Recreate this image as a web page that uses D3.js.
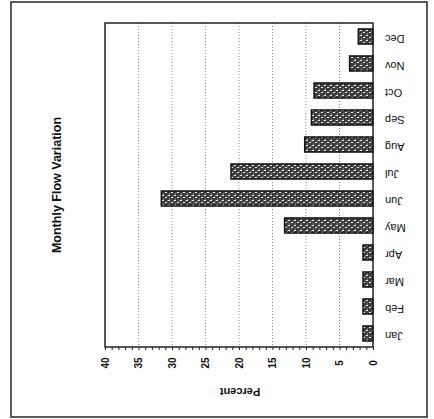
<!DOCTYPE html>
<meta charset="utf-8">
<style>
    body { margin: 0; background: #fff; }
    text { font-family: "Liberation Sans", Arial, sans-serif; fill: #111; }
    .grid line { stroke: #888; stroke-dasharray: 1,2; }
</style>
<svg width="434" height="419"></svg>
<script src="https://cdn.jsdelivr.net/npm/d3@7"></script>
<script>

    var months = ["Jan", "Feb", "Mar", "Apr", "May", "Jun", "Jul", "Aug", "Sep", "Oct", "Nov", "Dec"];
    var percents = [1.5, 1.5, 1.5, 1.5, 13.2, 31.6, 21.2, 10.2, 9.2, 8.8, 3.5, 2.2];
    var tickValues = [0, 5, 10, 15, 20, 25, 30, 35, 40];

    var data = months.map(function(m, i) { return {month: m, value: percents[i]}; });

    var svg = d3.select("svg");

    var plotLeft = 105, plotRight = 373, plotTop = 23, plotBottom = 347;

    // value axis runs right-to-left, months bottom-to-top
    var x = d3.scaleLinear().domain([0, 40]).range([plotRight, plotLeft]);
    var y = d3.scaleBand().domain(months).range([plotBottom, plotTop]).paddingInner(0.44).paddingOuter(0.22);

    // speckled fill for bars
    var defs = svg.append("defs");
    var pat = defs.append("pattern")
            .attr("id", "speck")
            .attr("width", 6).attr("height", 5)
            .attr("patternUnits", "userSpaceOnUse");
    pat.append("rect").attr("width", 6).attr("height", 5).attr("fill", "#3c3c3c");
    pat.append("rect").attr("x", 0).attr("y", 0).attr("width", 2).attr("height", 1).attr("fill", "#e8e8e8");
    pat.append("rect").attr("x", 3).attr("y", 2).attr("width", 2).attr("height", 1).attr("fill", "#f0f0f0");
    pat.append("rect").attr("x", 1).attr("y", 3.5).attr("width", 1).attr("height", 1).attr("fill", "#bbb");
    pat.append("rect").attr("x", 5).attr("y", 0.5).attr("width", 1).attr("height", 1).attr("fill", "#999");

    // outer frame
    svg.append("rect")
            .attr("x", 11).attr("y", 2)
            .attr("width", 416).attr("height", 415)
            .attr("fill", "none")
            .attr("stroke", "#333")
            .attr("stroke-width", 1.6);

    // grid
    svg.append("g")
            .attr("class", "grid")
            .selectAll("line")
            .data(tickValues.filter(function(d) { return d > 0 && d < 40; }))
            .enter().append("line")
            .attr("x1", function(d) { return x(d); })
            .attr("x2", function(d) { return x(d); })
            .attr("y1", plotTop)
            .attr("y2", plotBottom);

    // bars
    svg.append("g")
            .selectAll("rect")
            .data(data)
            .enter().append("rect")
            .attr("x", function(d) { return x(d.value); })
            .attr("y", function(d) { return y(d.month); })
            .attr("width", function(d) { return x(0) - x(d.value); })
            .attr("height", y.bandwidth())
            .attr("fill", "url(#speck)")
            .attr("stroke", "#111")
            .attr("stroke-width", 1.4);

    // plot frame
    svg.append("rect")
            .attr("x", plotLeft).attr("y", plotTop)
            .attr("width", plotRight - plotLeft).attr("height", plotBottom - plotTop)
            .attr("fill", "none")
            .attr("stroke", "#222")
            .attr("stroke-width", 1.5);

    // bottom axis with minor ticks
    var axis = svg.append("g")
            .attr("transform", "translate(0," + plotBottom + ")");
    axis.call(d3.axisBottom(x).ticks(40).tickSize(3).tickFormat(""))
            .call(function(g) { g.select(".domain").remove(); })
            .selectAll("line").attr("stroke", "#222");

    svg.append("g")
            .selectAll("text")
            .data(tickValues)
            .enter().append("text")
            .attr("transform", function(d) { return "translate(" + x(d) + ",363) rotate(-90)"; })
            .attr("text-anchor", "middle")
            .attr("dy", "0.35em")
            .style("font-size", "10px")
            .style("font-weight", "bold")
            .text(function(d) { return d; });

    // month labels, upside down
    svg.append("g")
            .selectAll("text")
            .data(months)
            .enter().append("text")
            .attr("transform", function(d) {
                return "translate(385," + (y(d) + y.bandwidth() / 2 + 2) + ") rotate(180)"; })
            .attr("text-anchor", "end")
            .attr("dy", "0.35em")
            .style("font-size", "11px")
            .text(function(d) { return d; });

    svg.append("text")
            .attr("transform", "translate(240,392) rotate(180)")
            .attr("text-anchor", "middle")
            .attr("dy", "0.35em")
            .style("font-size", "11px")
            .style("font-weight", "bold")
            .text("Percent");

    svg.append("text")
            .attr("transform", "translate(57,185) rotate(-90)")
            .attr("text-anchor", "middle")
            .attr("dy", "0.35em")
            .style("font-size", "12.5px")
            .style("font-weight", "bold")
            .text("Monthly Flow Variation");

</script>
